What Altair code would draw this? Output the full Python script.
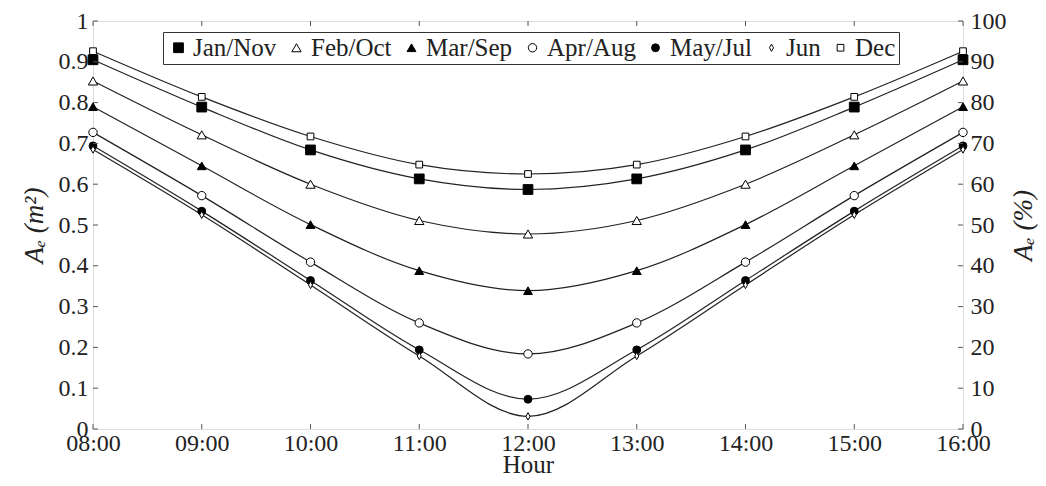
import altair as alt
import pandas as pd

# ---------------- data ----------------
hours = [8, 9, 10, 11, 12, 13, 14, 15, 16]
hour_labels = ["08:00", "09:00", "10:00", "11:00", "12:00", "13:00", "14:00", "15:00", "16:00"]
series_names = ["Jan/Nov", "Feb/Oct", "Mar/Sep", "Apr/Aug", "May/Jul", "Jun", "Dec"]

jan_nov = [0.905, 0.789, 0.684, 0.613, 0.587, 0.613, 0.684, 0.789, 0.905]
feb_oct = [0.853, 0.721, 0.600, 0.511, 0.478, 0.511, 0.600, 0.721, 0.853]
mar_sep = [0.790, 0.645, 0.501, 0.388, 0.339, 0.388, 0.501, 0.645, 0.790]
apr_aug = [0.727, 0.572, 0.409, 0.260, 0.184, 0.260, 0.409, 0.572, 0.727]
may_jul = [0.694, 0.534, 0.364, 0.194, 0.073, 0.194, 0.364, 0.534, 0.694]
jun = [0.685, 0.525, 0.353, 0.179, 0.031, 0.179, 0.353, 0.525, 0.685]
dec = [0.926, 0.814, 0.717, 0.648, 0.625, 0.648, 0.717, 0.814, 0.926]

left_ticks = [0, 0.1, 0.2, 0.3, 0.4, 0.5, 0.6, 0.7, 0.8, 0.9, 1.0]
right_ticks = [0, 10, 20, 30, 40, 50, 60, 70, 80, 90, 100]

series_values = [jan_nov, feb_oct, mar_sep, apr_aug, may_jul, jun, dec]
shapes = ["square", "triangle-up", "triangle-up", "circle", "circle",
          "M0,-1L0.55,0L0,1L-0.55,0Z", "square"]
fills = ["black", "white", "black", "white", "black", "white", "white"]
strokes = ["black"] * 7
sizes = [95, 45, 45, 95, 125, 60, 95]

rows = []
for name, vals in zip(series_names, series_values):
    for h, v in zip(hours, vals):
        rows.append({"hour": h, "value": v, "series": name})
df = pd.DataFrame(rows)

W, H = 870, 408
FONT = "Liberation Serif"
TXT = "#222"

label_map = "{" + ",".join(f"'{h}':'{l}'" for h, l in zip(hours, hour_labels)) + "}"

xscale = alt.Scale(domain=[8, 16], nice=False, zero=False)
yscale = alt.Scale(domain=[0, 1], nice=False)

x_axis = alt.Axis(values=hours, labelExpr=f"{label_map}[datum.value]",
                  title="Hour", ticks=False, domain=False, grid=False,
                  labelFontSize=24, titleFontSize=25, labelPadding=2,
                  titlePadding=-3, labelFont=FONT, titleFont=FONT,
                  labelColor=TXT, titleColor=TXT, titleFontWeight="normal",
                  labelFlush=False)
y_axis = alt.Axis(values=left_ticks, format="~g", title="Aₑ (m²)",
                  ticks=False, domain=False, grid=False,
                  labelFontSize=24, titleFontSize=27, labelPadding=5,
                  titlePadding=10, labelFont=FONT, titleFont=FONT,
                  titleFontStyle="italic",
                  labelColor=TXT, titleColor=TXT, titleFontWeight="normal",
                  labelFlush=False)

lines = alt.Chart(df).mark_line(interpolate="monotone", color="#222", strokeWidth=1.2).encode(
    x=alt.X("hour:Q", scale=xscale, axis=x_axis, title="Hour"),
    y=alt.Y("value:Q", scale=yscale, axis=y_axis, title="Aₑ (m²)"),
    detail="series:N",
)

legend = alt.Legend(
    title=None, orient="none", legendX=70, legendY=11, direction="horizontal",
    columns=7, strokeColor="#333", padding=3, labelFont=FONT, labelFontSize=25,
    labelColor=TXT, symbolStrokeWidth=1,
    labelOffset=2, columnPadding=7, fillColor="white", labelLimit=300,
)

points = alt.Chart(df).mark_point(filled=False, strokeWidth=1, opacity=1).encode(
    x=alt.X("hour:Q", scale=xscale, axis=x_axis, title="Hour"),
    y=alt.Y("value:Q", scale=yscale, axis=y_axis, title="Aₑ (m²)"),
    shape=alt.Shape("series:N", scale=alt.Scale(domain=series_names, range=shapes), legend=legend),
    fill=alt.Fill("series:N", scale=alt.Scale(domain=series_names, range=fills), legend=legend),
    stroke=alt.Stroke("series:N", scale=alt.Scale(domain=series_names, range=strokes), legend=legend),
    size=alt.Size("series:N", scale=alt.Scale(domain=series_names, range=sizes), legend=legend),
)

ldf = pd.DataFrame({"value": left_ticks})
hdf = pd.DataFrame({"hour": hours})
rdf = pd.DataFrame({"p": right_ticks})

tick_color = "#555"
left_tk = alt.Chart(ldf).mark_rule(color=tick_color).encode(
    y=alt.Y("value:Q", scale=yscale, axis=y_axis, title="Aₑ (m²)"),
    x=alt.value(0), x2=alt.value(5))
bottom_tk = alt.Chart(hdf).mark_rule(color=tick_color).encode(
    x=alt.X("hour:Q", scale=xscale, axis=x_axis, title="Hour"),
    y=alt.value(H - 5), y2=alt.value(H))
top_tk = alt.Chart(hdf).mark_rule(color=tick_color).encode(
    x=alt.X("hour:Q", scale=xscale, axis=x_axis, title="Hour"),
    y=alt.value(0), y2=alt.value(5))

right_tk = alt.Chart(rdf).mark_rule(color=tick_color).encode(
    y=alt.Y("p:Q", scale=alt.Scale(domain=[0, 100], nice=False),
            axis=alt.Axis(orient="right", values=right_ticks, title="Aₑ (%)",
                          ticks=False, domain=False, grid=False,
                          labelFontSize=24, titleFontSize=27, labelPadding=7,
                          titlePadding=4, titleAngle=270, titleBaseline="top",
                          titleFontStyle="italic",
                          labelFont=FONT, titleFont=FONT,
                          labelColor=TXT, titleColor=TXT, titleFontWeight="normal",
                          labelFlush=False)),
    x=alt.value(W - 5), x2=alt.value(W))

main = alt.layer(lines, points, left_tk, bottom_tk, top_tk)

chart = alt.layer(main, right_tk).resolve_scale(y="independent").properties(
    width=W, height=H,
    autosize=alt.AutoSizeParams(type="none"),
    padding={"left": 85, "top": 13, "right": 75, "bottom": 49},
).configure_view(stroke="#555", strokeWidth=1.2).configure(background="white")

chart.save("out.html", embed_options={"renderer": "svg", "actions": False})
